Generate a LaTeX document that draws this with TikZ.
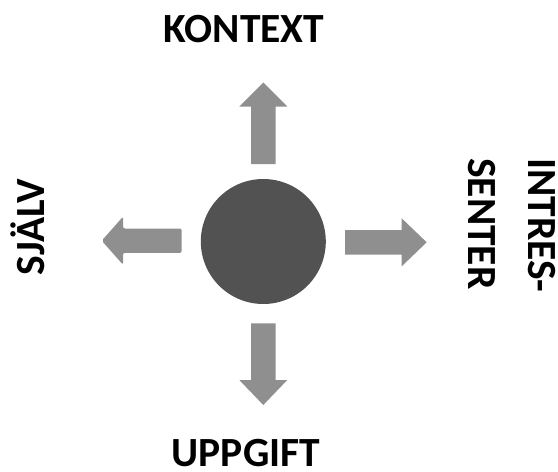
\documentclass[tikz,border=0pt]{standalone}
\usepackage{fontspec}
\setmainfont{Carlito}
\definecolor{arrowgray}{HTML}{8F8F8F}
\definecolor{circlegray}{HTML}{525252}
\tikzset{
  lbl/.style={inner sep=0pt, font=\bfseries\fontsize{41.5}{60}\selectfont, text=black},
  pics/blockarrow/.style n args={4}{code={
    \fill[arrowgray, rounded corners=#4] (#1,-12.2) -- (#2,-12.2) -- (#2,-24) -- (#3,0) -- (#2,24) -- (#2,12.2) -- (#1,12.2) -- cycle;
  }}
}
\begin{document}
\begin{tikzpicture}[x=1pt,y=1pt]
\useasboundingbox (0,0) rectangle (558,-472);
\node[circle, fill=circlegray, minimum size=125pt, inner sep=0pt] (c) at (263.3,-241.5) {};
% arrows
\pic[rotate=90] at (c.center) {blockarrow={77.5}{135}{159}{0pt}};
\pic[rotate=-90] at (c.center) {blockarrow={81.8}{138.5}{163.5}{0pt}};
\pic[rotate=180, yshift=-0.8pt] at (c.center) {blockarrow={81.6}{140.3}{161.6}{2pt}};
\pic[yshift=-0.8pt] at (c.center) {blockarrow={81.7}{138.4}{163.4}{0pt}};
% labels
\node[lbl, anchor=base] (kontext) at (244,-42.7) {KONTEXT};
\node[lbl, anchor=base] (uppgift) at (246,-466) {UPPGIFT};
\node[lbl, anchor=base, rotate=90] (sjalv) at (45,-227) {SJÄLV};
\node[lbl, anchor=base west, rotate=-90, align=left] (intresse) at (468,-158) {INTRES-\\SENTER};
\end{tikzpicture}
\end{document}
